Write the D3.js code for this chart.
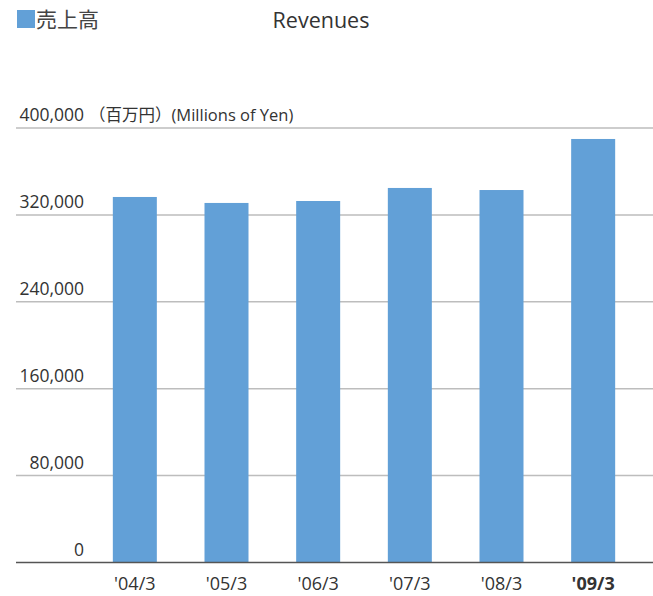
<!DOCTYPE html>
<html lang="ja">
<head>
  <meta charset="UTF-8">
  <title>Revenues</title>
  <script src="https://d3js.org/d3.v7.min.js"></script>
  <style>
    body { margin: 0; background: #fff; font-family: "Open Sans", "Noto Sans CJK JP", sans-serif; }
  </style>
</head>
<body>
  <div id="chart"></div>
  <script>
    const categories = ["'04/3", "'05/3", "'06/3", "'07/3", "'08/3", "'09/3"];
    const revenues = [336500, 331000, 332800, 344800, 342900, 389900];
    const yTicks = [0, 80000, 160000, 240000, 320000, 400000];

    const width = 653, height = 596;
    const svg = d3.select("#chart").append("svg")
      .attr("width", width).attr("height", height);

    const x = d3.scaleBand().domain(categories).range([89, 639])
      .paddingInner(0.52).paddingOuter(0.26);
    const y = d3.scaleLinear().domain([0, 400000]).range([562.5, 128]);

    // gridlines + labels
    const grid = svg.append("g");
    grid.selectAll("line").data(yTicks.filter(d => d > 0)).enter().append("line")
      .attr("x1", 16).attr("x2", width)
      .attr("y1", d => y(d)).attr("y2", d => y(d))
      .attr("stroke", "#bdbdbd").attr("stroke-width", 1.5);

    grid.selectAll("text").data(yTicks).enter().append("text")
      .attr("x", 84).attr("y", d => y(d) - 7)
      .attr("text-anchor", "end")
      .style("font-size", "17.5px").style("fill", "#333")
      .text(d => d3.format(",")(d));

    svg.append("text")
      .attr("x", 89).attr("y", y(400000) - 7)
      .style("font-size", "16.5px").style("fill", "#333")
      .text("（百万円）(Millions of Yen)");

    // bars
    svg.append("g").selectAll("rect").data(revenues).enter().append("rect")
      .attr("x", (d, i) => x(categories[i]))
      .attr("width", x.bandwidth())
      .attr("y", d => y(d))
      .attr("height", d => y(0) - y(d))
      .attr("fill", "#62a0d7");

    // baseline
    svg.append("line")
      .attr("x1", 16).attr("x2", width)
      .attr("y1", y(0)).attr("y2", y(0))
      .attr("stroke", "#555").attr("stroke-width", 1.5);

    // x labels
    svg.append("g").selectAll("text").data(categories).enter().append("text")
      .attr("x", d => x(d) + x.bandwidth() / 2)
      .attr("y", 590)
      .attr("text-anchor", "middle")
      .style("font-size", "18px").style("fill", "#333")
      .style("font-weight", (d, i) => i === categories.length - 1 ? "bold" : "normal")
      .text(d => d);

    // legend + title
    svg.append("rect").attr("x", 17).attr("y", 10).attr("width", 18).attr("height", 18)
      .attr("fill", "#62a0d7");
    svg.append("text").attr("x", 36).attr("y", 27)
      .style("font-size", "21px").style("fill", "#444")
      .text("売上高");
    svg.append("text").attr("x", 321).attr("y", 28)
      .attr("text-anchor", "middle")
      .style("font-size", "21.5px").style("fill", "#333")
      .text("Revenues");
  </script>
</body>
</html>
